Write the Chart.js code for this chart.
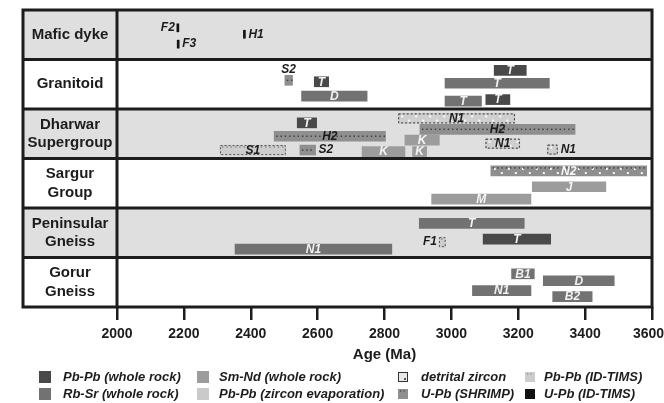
<!DOCTYPE html>
<html lang="en">
<head>
<meta charset="UTF-8">
<title>Geochronology of Dharwar units</title>
<script src="https://cdn.jsdelivr.net/npm/chart.js@4.4.1/dist/chart.umd.min.js"></script>
<style>
  html, body { margin: 0; padding: 0; background: #fff; }
</style>
</head>
<body>
<canvas id="ages" width="664" height="403"></canvas>
<script>
// rock units, top to bottom
const unitNames = [['Mafic dyke'], ['Granitoid'], ['Dharwar', 'Supergroup'], ['Sargur', 'Group'], ['Peninsular', 'Gneiss'], ['Gorur', 'Gneiss']];
const ageTicks = [2000, 2200, 2400, 2600, 2800, 3000, 3200, 3400, 3600];

// [from Ma, to Ma, track inside the unit (0 top .. 1 bottom), method, label, where the label goes]
const maficDyke = [
  [2179, 2185, 0.36, 'uPbTims', 'F2', 'left'],
  [2180, 2186, 0.69, 'uPbTims', 'F3', 'right'],
  [2378, 2384, 0.49, 'uPbTims', 'H1', 'right']
];
const granitoid = [
  [2502, 2525, 0.42, 'shrimp', 'S2', 'above'],
  [2590, 2633, 0.45, 'pbWR', 'T', 'in'],
  [2552, 2748, 0.74, 'rbSr', 'D', 'in'],
  [3128, 3224, 0.22, 'pbWR', 'T', 'in'],
  [2981, 3293, 0.48, 'rbSr', 'T', 'in'],
  [2981, 3090, 0.84, 'rbSr', 'T', 'in'],
  [3103, 3175, 0.81, 'pbWR', 'T', 'in']
];
const dharwar = [
  [2539, 2597, 0.28, 'pbWR', 'T', 'in'],
  [2470, 2803, 0.55, 'shrimp', 'H2', 'in'],
  [2906, 3370, 0.41, 'shrimp', 'H2', 'in'],
  [2308, 2505, 0.83, 'pbTims', 'S1', 'in'],
  [2547, 2594, 0.83, 'shrimp', 'S2', 'right'],
  [2841, 3190, 0.19, 'detrital', 'N1', 'in'],
  [2861, 2964, 0.63, 'smNd', 'K', 'in'],
  [2733, 2861, 0.86, 'smNd', 'K', 'in'],
  [2884, 2926, 0.86, 'smNd', 'K', 'in'],
  [3102, 3205, 0.70, 'detrital', 'N1', 'in'],
  [3287, 3318, 0.82, 'detrital', 'N1', 'right']
];
const sargur = [
  [3118, 3584, 0.25, 'shrimpDetrital', 'N2', 'in'],
  [3242, 3462, 0.57, 'smNd', 'J', 'in'],
  [2941, 3238, 0.82, 'smNd', 'M', 'in']
];
const peninsular = [
  [2904, 3218, 0.31, 'rbSr', 'T', 'in'],
  [3095, 3297, 0.63, 'pbWR', 'T', 'in'],
  [2963, 2983, 0.69, 'pbTims', 'F1', 'left'],
  [2353, 2822, 0.83, 'rbSr', 'N1', 'in']
];
const gorur = [
  [3180, 3248, 0.33, 'rbSr', 'B1', 'in'],
  [3275, 3487, 0.47, 'rbSr', 'D', 'in'],
  [3063, 3238, 0.67, 'rbSr', 'N1', 'in'],
  [3303, 3421, 0.79, 'rbSr', 'B2', 'in']
];
const units = [maficDyke, granitoid, dharwar, sargur, peninsular, gorur];

const legendRows = [
  [['Pb-Pb (whole rock)', 'pbWR'], ['Sm-Nd (whole rock)', 'smNd'], ['detrital zircon', 'detrital'], ['Pb-Pb (ID-TIMS)', 'pbTims']],
  [['Rb-Sr (whole rock)', 'rbSr'], ['Pb-Pb (zircon evaporation)', 'pbEvap'], ['U-Pb (SHRIMP)', 'shrimp'], ['U-Pb (ID-TIMS)', 'uPbTims']]
];

const FONT = '"Liberation Sans", Arial, Helvetica, sans-serif';
const INK = '#1c1c1c';
const methodStyle = {
  pbWR:           { fill: '#494949', text: '#f2f2f2' },
  rbSr:           { fill: '#727272', text: '#f2f2f2' },
  smNd:           { fill: '#9c9c9c', text: '#f4f4f4' },
  pbEvap:         { fill: '#cacaca', text: INK },
  detrital:       { fill: '#cfcfcf', text: INK, dash: '#333', whiteDots: true },
  pbTims:         { fill: '#cdcdcd', text: INK, dash: '#555', dots: '#8a8a8a' },
  shrimp:         { fill: '#8f8f8f', text: INK, dots: '#3a3a3a' },
  shrimpDetrital: { fill: '#8f8f8f', text: '#f4f4f4', dots: '#3a3a3a', whiteDots: true },
  uPbTims:        { fill: '#111111', text: INK }
};

Chart.defaults.font.family = FONT;

// one dataset per method
const datasets = Object.keys(methodStyle).map(m => {
  const data = [];
  units.forEach((bars, row) => {
    bars.filter(b => b[3] === m).forEach(b => {
      data.push({ x: [b[0], b[1]], y: row + b[2], label: b[4], place: b[5] });
    });
  });
  return {
    label: m,
    method: m,
    data: data,
    backgroundColor: methodStyle[m].fill,
    borderWidth: 0,
    barThickness: m === 'uPbTims' ? 8 : 10,
    grouped: false
  };
}).filter(d => d.data.length);

function dotRow(ctx, x0, x1, y, step, color, size) {
  ctx.fillStyle = color;
  for (let px = x0 + 2; px < x1 - 1; px += step) {
    ctx.fillRect(px, y - size / 2, size, size);
  }
}

const unitFrame = {
  id: 'unitFrame',
  beforeDraw(chart) {
    const { ctx, chartArea: a, scales: { y } } = chart;
    const frameLeft = 23;
    ctx.save();
    unitNames.forEach((name, i) => {
      const top = y.getPixelForValue(i), bot = y.getPixelForValue(i + 1);
      ctx.fillStyle = i % 2 === 0 ? '#dfdfdf' : '#ffffff';
      ctx.fillRect(frameLeft, top, a.right - frameLeft, bot - top);
      ctx.fillStyle = INK;
      ctx.font = 'bold 15px ' + FONT;
      ctx.textAlign = 'center';
      ctx.textBaseline = 'middle';
      const mid = (top + bot) / 2, cx = (frameLeft + a.left) / 2;
      name.forEach((line, k) => ctx.fillText(line, cx, mid + (k - (name.length - 1) / 2) * 18.5));
    });
    ctx.restore();
  },
  afterDatasetsDraw(chart) {
    const { ctx, chartArea: a, scales: { y } } = chart;
    ctx.save();
    chart.data.datasets.forEach((ds, di) => {
      const st = methodStyle[ds.method];
      chart.getDatasetMeta(di).data.forEach((bar, j) => {
        const p = bar.getProps(['x', 'y', 'base', 'height'], true);
        const l = Math.min(p.x, p.base), r = Math.max(p.x, p.base);
        const t = p.y - p.height / 2, b = p.y + p.height / 2;
        const item = ds.data[j];
        if (st.whiteDots) {
          ctx.fillStyle = '#fafafa';
          let k = 0;
          for (let px = l + 3; px < r - 2; px += 7, k++) {
            ctx.fillRect(px, (k % 2 ? b - 3.8 : t + 2), 2, 2);
          }
        }
        if (st.dots) {
          dotRow(ctx, l, r, ds.method === 'shrimp' ? p.y : t + 2, 4.3, st.dots, 1.4);
        }
        if (st.dash) {
          ctx.strokeStyle = st.dash;
          ctx.lineWidth = 1;
          ctx.setLineDash([2, 2]);
          ctx.strokeRect(l + 0.5, t + 0.5, r - l - 1, b - t - 1);
          ctx.setLineDash([]);
        }
        // label
        ctx.font = 'italic bold 12px ' + FONT;
        ctx.textBaseline = 'middle';
        if (item.place === 'in') {
          ctx.fillStyle = st.text;
          ctx.textAlign = 'center';
          ctx.fillText(item.label, (l + r) / 2, p.y + 0.5);
        } else {
          ctx.fillStyle = INK;
          if (item.place === 'left') { ctx.textAlign = 'right'; ctx.fillText(item.label, l - 2, p.y); }
          if (item.place === 'right') { ctx.textAlign = 'left'; ctx.fillText(item.label, r + 3, p.y); }
          if (item.place === 'above') { ctx.textAlign = 'center'; ctx.fillText(item.label, (l + r) / 2, t - 6); }
        }
      });
    });
    // frame on top
    ctx.strokeStyle = INK;
    ctx.lineWidth = 3;
    ctx.beginPath();
    for (let i = 1; i < unitNames.length; i++) {
      const py = y.getPixelForValue(i);
      ctx.moveTo(23, py); ctx.lineTo(a.right, py);
    }
    ctx.moveTo(a.left, a.top); ctx.lineTo(a.left, a.bottom);
    ctx.stroke();
    ctx.strokeRect(23, a.top, a.right - 23, a.bottom - a.top);
    ctx.restore();
  },
  afterDraw(chart) {
    const { ctx } = chart;
    const iconX = [39, 197, 398, 525], textX = [63, 219, 421, 544], rowY = [377, 394];
    ctx.save();
    ctx.font = 'italic bold 13px ' + FONT;
    ctx.textBaseline = 'middle';
    ctx.textAlign = 'left';
    legendRows.forEach((row, ri) => {
      row.forEach(([txt, m], ci) => {
        const st = methodStyle[m];
        const s = ci < 2 ? 12 : 10, ix = iconX[ci], iy = rowY[ri] - s / 2;
        if (m === 'detrital') {
          ctx.fillStyle = '#e8e8e8';
          ctx.fillRect(ix, iy, s, s);
          ctx.strokeStyle = '#333'; ctx.lineWidth = 1;
          ctx.strokeRect(ix + 0.5, iy + 0.5, s - 1, s - 1);
          ctx.fillStyle = '#555';
          ctx.fillRect(ix + s - 4, iy + s - 4, 2, 2);
        } else {
          ctx.fillStyle = st.fill;
          ctx.fillRect(ix, iy, s, s);
          if (st.dots) dotRow(ctx, ix, ix + s, iy + 2, 3.5, st.dots, 1.2);
        }
        ctx.fillStyle = INK;
        ctx.fillText(txt, textX[ci], rowY[ri]);
      });
    });
    ctx.restore();
  }
};

new Chart(document.getElementById('ages'), {
  type: 'bar',
  data: { datasets: datasets },
  plugins: [unitFrame],
  options: {
    indexAxis: 'y',
    responsive: false,
    animation: false,
    events: [],
    layout: { padding: { left: 117, right: 12, top: 10, bottom: 39 } },
    plugins: { legend: { display: false }, tooltip: { enabled: false } },
    scales: {
      y: { type: 'linear', display: false, min: 0, max: 6, reverse: true, offset: false },
      x: {
        type: 'linear', position: 'bottom', min: 2000, max: 3600,
        afterBuildTicks: s => { s.ticks = ageTicks.map(v => ({ value: v })); },
        ticks: {
          color: INK, font: { size: 14, weight: 'bold' }, padding: 6, maxRotation: 0, autoSkip: false,
          // last label is nudged left so it stays inside the picture
          callback: v => v === 3600 ? String(v) + '\u2002' : String(v)
        },
        grid: { drawOnChartArea: false, drawTicks: true, tickLength: 13, color: INK, lineWidth: 2.5 },
        border: { display: false },
        title: { display: true, text: 'Age (Ma)', color: INK, font: { size: 15, weight: 'bold' }, padding: 0 },
        afterFit: s => { s.height = 57; s.paddingLeft = 0; s.paddingRight = 0; }
      }
    }
  }
});
</script>
</body>
</html>
